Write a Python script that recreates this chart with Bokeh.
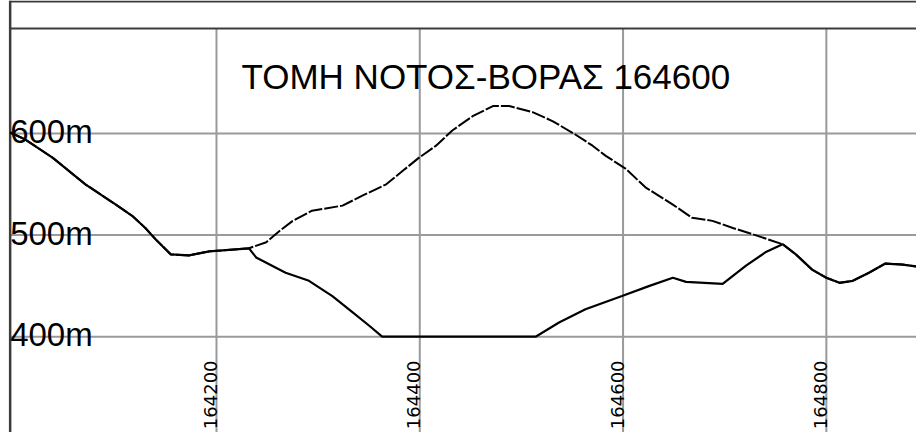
from math import pi
from bokeh.plotting import figure
from bokeh.models import Range1d, Label, ColumnDataSource
from bokeh.core.properties import value
from bokeh.embed import file_html
from bokeh.resources import INLINE

# ---- data (stations in m, elevations in m) ----
TITLE = "ΤΟΜΗ ΝΟΤΟΣ-ΒΟΡΑΣ 164600"
STATIONS = [164200, 164400, 164600, 164800]
STATION_LABELS = ["164200", "164400", "164600", "164800"]
ELEV_TICKS = [400, 500, 600]
ELEV_LABELS = ["400m", "500m", "600m"]

# common ground, west of the split
LEFT_X = [163997, 164012, 164039, 164071, 164101, 164117, 164130, 164140, 164155, 164173, 164193, 164232]
LEFT_Y = [601, 594, 576, 550, 530, 519, 507, 496, 481, 480, 484, 487]
# existing ground over the hill (dashed)
HILL_X = [164249, 164262, 164275, 164294, 164324, 164344, 164367, 164383, 164399, 164416, 164432, 164452,
          164472, 164488, 164511, 164531, 164553, 164570, 164583, 164603, 164622, 164649, 164668, 164688,
          164708, 164727, 164757]
HILL_Y = [493, 504, 514, 524, 529, 539, 550, 563, 576, 588, 603, 617,
          627, 627, 621, 612, 599, 588, 578, 565, 547, 530, 517, 514,
          507, 501, 491]
# cut profile through the hill (solid)
CUT_X = [164239, 164268, 164291, 164314, 164334, 164350, 164363, 164514, 164537, 164563, 164599, 164626,
         164649, 164662, 164698, 164721, 164740, 164757]
CUT_Y = [478, 463, 455, 440, 424, 411, 400, 400, 414, 427, 440, 450,
         458, 454, 452, 470, 483, 491]
# common ground, east of the junction
RIGHT_X = [164770, 164786, 164800, 164813, 164826, 164842, 164858, 164875, 164889]
RIGHT_Y = [481, 466, 458, 453, 455, 463, 472, 471, 469]

terrain_x = LEFT_X + HILL_X + RIGHT_X
terrain_y = LEFT_Y + HILL_Y + RIGHT_Y
design_x = LEFT_X + CUT_X + RIGHT_X
design_y = LEFT_Y + CUT_Y + RIGHT_Y

# ---- view window (sheet crop) ----
X_START, X_END = 163987.5, 164888.7
Y_START, Y_END = 305.7, 730.9
BORDER_X = 163997.0     # left sheet border
SHEET_TOP_Y = 730.0     # top sheet line
STRIP_Y = 703.4         # line under the header strip
XLABEL_START_Y = 309.0  # lower (starting) end of the rotated station labels

GRID = "#9a9a9a"
BORDER = "#3c3c3c"

p = figure(width=916, height=432, x_range=Range1d(X_START, X_END), y_range=Range1d(Y_START, Y_END),
           output_backend="svg", toolbar_location=None, title=None,
           x_axis_location=None, y_axis_location=None,
           min_border_left=0, min_border_right=0, min_border_top=0, min_border_bottom=0)
p.grid.visible = False
p.outline_line_color = None
p.background_fill_color = "white"
p.border_fill_color = "white"

# grid
n_e, n_s = len(ELEV_TICKS), len(STATIONS)
p.segment(x0=[BORDER_X] * n_e, x1=[X_END] * n_e, y0=ELEV_TICKS, y1=ELEV_TICKS,
          line_color=GRID, line_width=2)
p.segment(x0=STATIONS, x1=STATIONS, y0=[Y_START] * n_s, y1=[STRIP_Y] * n_s,
          line_color=GRID, line_width=2)

# sheet lines
p.segment(x0=[BORDER_X], x1=[BORDER_X], y0=[Y_START], y1=[Y_END], line_color=BORDER, line_width=2.5)
p.segment(x0=[BORDER_X, BORDER_X], x1=[X_END, X_END], y0=[SHEET_TOP_Y, STRIP_Y], y1=[SHEET_TOP_Y, STRIP_Y],
          line_color=BORDER, line_width=2)

# profiles
p.line(design_x, design_y, line_color="black", line_width=2.2)
p.line(terrain_x, terrain_y, line_color="black", line_width=2, line_dash="14 2")

# elevation labels
src_y = ColumnDataSource(dict(x=[BORDER_X] * n_e, y=ELEV_TICKS, t=ELEV_LABELS))
p.text(x="x", y="y", text="t", source=src_y, text_font=value("Liberation Sans"),
       text_font_size="33px", text_color="black", text_align="left", text_baseline="alphabetic",
       y_offset=-2, x_offset=0)

# station labels (rotated, reading upwards, just left of each grid line)
src_x = ColumnDataSource(dict(x=STATIONS, y=[XLABEL_START_Y] * n_s, t=STATION_LABELS))
p.text(x="x", y="y", text="t", source=src_x, text_font=value("DejaVu Sans"),
       text_font_size="18px", text_color="black", angle=pi / 2,
       text_align="left", text_baseline="alphabetic", x_offset=-6)

# title
p.add_layout(Label(x=164465, y=656, text=TITLE, text_font="Liberation Sans", text_font_size="35px",
                   text_color="black", text_align="center", text_baseline="alphabetic"))

open("out.html", "w").write(file_html(p, INLINE))
